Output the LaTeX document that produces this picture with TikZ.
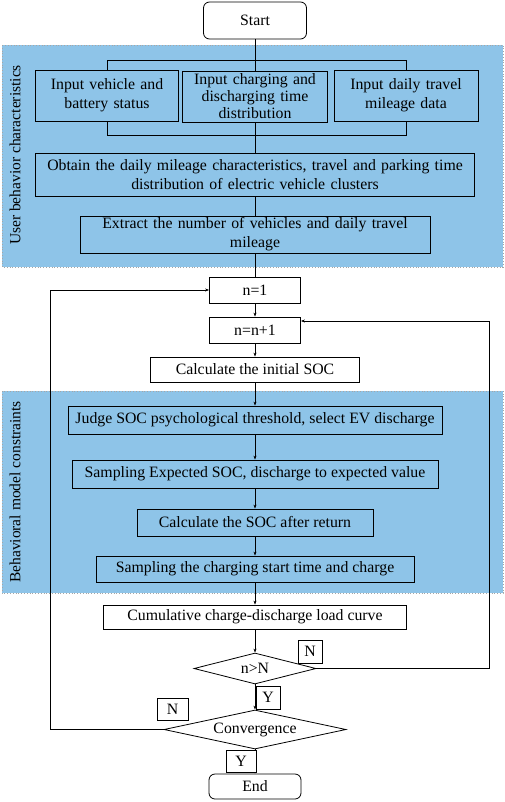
\documentclass[tikz,border=0pt]{standalone}
\usepackage{fontspec}
\setmainfont{Liberation Serif}
\usetikzlibrary{shapes.geometric,arrows.meta}
\definecolor{panelblue}{HTML}{8EC4E8}
\begin{document}
\begin{tikzpicture}[x=1pt,y=-1pt]
	\tikzset{box/.style = {draw, line width=0.8pt, inner sep=0pt, align=center, font=\fontsize{15.8}{19}\selectfont}}
	\tikzset{wbox/.style = {box, fill=white}}
	\tikzset{term/.style = {wbox, rounded corners=6pt}}
	\tikzset{decision/.style = {wbox, diamond, aspect=4}}
	\tikzset{tag/.style = {wbox, minimum width=24pt, minimum height=23pt}}
	\tikzset{panel/.style = {fill=panelblue, draw=gray!70, dotted, line width=0.8pt}}
	\tikzset{flow/.style = {line width=0.8pt, -{Stealth[length=4pt,width=3pt]}}}
	\tikzset{link/.style = {line width=0.8pt}}
	\useasboundingbox (0,0) rectangle (505,802);
	% panels
	\path[panel] (2,45) rectangle (503,267);
	\path[panel] (2,391) rectangle (503,593);
	\node[rotate=90, font=\fontsize{15.5}{17}\selectfont] (lab1) at (15,155) {User behavior characteristics};
	\node[rotate=90, font=\fontsize{15.5}{17}\selectfont] (lab2) at (15,492) {Behavioral model constraints};
	% user behavior part
	\node[term, minimum width=103pt, minimum height=37pt] (start) at (255,20.5) {Start};
	\node[box, text width=143pt, minimum height=51pt] (in1) at (107,95.5) {Input vehicle and\\battery status};
	\node[box, text width=145pt, minimum height=51pt, font=\fontsize{15.8}{17}\selectfont] (in2) at (255,96.5) {Input charging and\\discharging time\\distribution};
	\node[box, text width=144pt, minimum height=51pt] (in3) at (406,95.5) {Input daily travel\\mileage data};
	\node[box, text width=439pt, minimum height=43pt] (obtain) at (255,174.5) {Obtain the daily mileage characteristics, travel and parking time\\distribution of electric vehicle clusters};
	\node[box, text width=350pt, minimum height=37pt] (extract) at (255,234.5) {Extract the number of vehicles and daily travel\\mileage};
	\coordinate (tl) at (107,60);
	\coordinate (tr) at (406,60);
	\coordinate (bl) at (107,135);
	\coordinate (br) at (406,135);
	\draw[link] (in1.north) -- (tl) -- (tr) -- (in3.north);
	\draw[link] (in1.south) -- (bl) -- (br) -- (in3.south);
	\draw[link] (start) -- (in2);
	\draw[link] (in2) -- (obtain);
	\draw[link] (obtain) -- (extract);
	% loop part
	\node[wbox, minimum width=91pt, minimum height=26pt] (n1) at (255,290) {n=1};
	\node[wbox, minimum width=91pt, minimum height=26pt] (nn) at (255,330) {n=n+1};
	\node[wbox, minimum width=209pt, minimum height=25pt] (calc) at (255,369.5) {Calculate the initial SOC};
	\node[box, minimum width=374pt, minimum height=28pt] (judge) at (255,420) {Judge SOC psychological threshold, select EV discharge};
	\node[box, minimum width=366pt, minimum height=28pt] (sampexp) at (255,474) {Sampling Expected SOC, discharge to expected value};
	\node[box, minimum width=236pt, minimum height=27pt] (after) at (255,522.5) {Calculate the SOC after return};
	\node[box, minimum width=318pt, minimum height=26pt] (sampchg) at (255,569) {Sampling the charging start time and charge};
	\node[wbox, minimum width=303pt, minimum height=24pt] (cum) at (255,617) {Cumulative charge-discharge load curve};
	\node[decision, minimum width=122pt, minimum height=31pt] (dec1) at (255,668.5) {n>N};
	\node[decision, minimum width=182pt, minimum height=39pt] (dec2) at (255,729.5) {Convergence};
	\node[term, minimum width=92pt, minimum height=25pt] (end) at (255,786.5) {End};
	\draw[link] (extract) -- (n1);
	\draw[flow] (n1) -- (nn);
	\draw[flow] (nn) -- (calc);
	\draw[flow] (calc) -- (judge);
	\draw[flow] (judge) -- (sampexp);
	\draw[flow] (sampexp) -- (after);
	\draw[flow] (after) -- (sampchg);
	\draw[flow] (sampchg) -- (cum);
	\draw[flow] (cum) -- (dec1);
	\draw[flow] (dec1) -- (dec2);
	\draw[flow] (dec2) -- (end);
	\coordinate (rloop) at (489,321);
	\coordinate (lloop) at (50,290);
	\draw[flow] (dec1.east) -| (rloop) -- (nn.east |- rloop);
	\draw[flow] (dec2.west) -| (lloop) -- (n1.west);
	% yes / no tags
	\node[tag] (tagn1) at (310,651.5) {N};
	\node[tag] (tagy1) at (268,697.5) {Y};
	\node[tag, minimum width=31pt, minimum height=22pt] (tagn2) at (172.5,709) {N};
	\node[tag, minimum width=30pt, minimum height=22pt] (tagy2) at (241,761) {Y};
\end{tikzpicture}
\end{document}
